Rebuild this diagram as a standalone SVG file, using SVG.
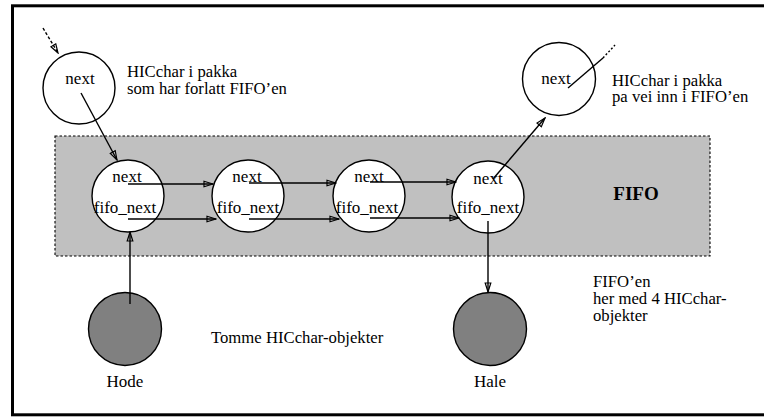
<svg xmlns="http://www.w3.org/2000/svg" width="764" height="419" viewBox="0 0 764 419" font-family="'Liberation Serif', 'Times New Roman', 'DejaVu Serif', serif">
<style>
text{font-family:'Liberation Serif','Times New Roman','DejaVu Serif',serif;fill:#000}
.lbl{font-size:16.7px}
.nl{font-size:17px;text-anchor:middle}
.node{fill:#fff;stroke:#000;stroke-width:1.4}
.empty{fill:#808080;stroke:#000;stroke-width:1.4}
.conn{stroke:#000;stroke-width:1.4;fill:none}
</style>
<defs>
<marker id="ah" viewBox="-10 -4 11 8" refX="0" refY="0" markerWidth="11" markerHeight="8" markerUnits="userSpaceOnUse" orient="auto">
<path d="M0,0 L-9,-2.8 L-9,2.8 Z" fill="none" stroke="#000" stroke-width="1.2"/>
</marker>
</defs>
<rect x="0" y="0" width="764" height="419" fill="#fff"/>
<rect x="12.5" y="5.8" width="760" height="409" fill="none" stroke="#000" stroke-width="3"/>

<g id="fifo">
<rect x="55" y="136" width="655" height="120" fill="#c0c0c0" stroke="#000" stroke-width="1.1" stroke-dasharray="2.5,2"/>
<text x="636" y="200" style="font-size:19px;font-weight:bold;text-anchor:middle">FIFO</text>
</g>

<g id="n0">
<circle class="node" cx="79" cy="88" r="36"/>
<text class="nl" x="80" y="84">next</text>
</g>
<g id="n1">
<circle class="node" cx="128" cy="196" r="36"/>
<text class="nl" x="127" y="182">next</text>
<text class="nl" x="125" y="213">fifo_next</text>
</g>
<g id="n2">
<circle class="node" cx="248" cy="196" r="36"/>
<text class="nl" x="247" y="182">next</text>
<text class="nl" x="248" y="213">fifo_next</text>
</g>
<g id="n3">
<circle class="node" cx="369" cy="196" r="36"/>
<text class="nl" x="369" y="182">next</text>
<text class="nl" x="367" y="213">fifo_next</text>
</g>
<g id="n4">
<circle class="node" cx="488" cy="197" r="36"/>
<text class="nl" x="488" y="184">next</text>
<text class="nl" x="488" y="213">fifo_next</text>
</g>
<g id="n5">
<circle class="node" cx="559" cy="79" r="36.5"/>
<text class="nl" x="556" y="84">next</text>
</g>
<g id="hode">
<circle class="empty" cx="125" cy="329" r="36.5"/>
<text class="nl" x="125" y="387">Hode</text>
</g>
<g id="hale">
<circle class="empty" cx="490" cy="329" r="36.5"/>
<text class="nl" x="490" y="387">Hale</text>
</g>

<g id="labels">
<text class="lbl" x="127" y="77">HICchar i pakka</text>
<text class="lbl" x="127" y="93.5">som har forlatt FIFO’en</text>
<text class="lbl" x="612" y="86">HICchar i pakka</text>
<text class="lbl" x="612" y="102">pa vei inn i FIFO’en</text>
<text class="lbl" x="593" y="287">FIFO’en</text>
<text class="lbl" x="593" y="304">her med 4 HICchar-</text>
<text class="lbl" x="593" y="320.5">objekter</text>
<text class="lbl" x="211" y="343">Tomme HICchar-objekter</text>
</g>

<g id="connectors">
<line class="conn" x1="43" y1="28" x2="58" y2="53" stroke-dasharray="3,2" marker-end="url(#ah)"/>
<line class="conn" x1="81" y1="93" x2="117" y2="160" marker-end="url(#ah)"/>
<line class="conn" x1="128" y1="184" x2="213" y2="184" marker-end="url(#ah)"/>
<line class="conn" x1="128" y1="219" x2="216" y2="219" marker-end="url(#ah)"/>
<line class="conn" x1="249" y1="183" x2="336" y2="183" marker-end="url(#ah)"/>
<line class="conn" x1="249" y1="219" x2="339" y2="219" marker-end="url(#ah)"/>
<line class="conn" x1="370" y1="182" x2="456" y2="182" marker-end="url(#ah)"/>
<line class="conn" x1="370" y1="218" x2="459" y2="218" marker-end="url(#ah)"/>
<line class="conn" x1="493" y1="179" x2="545" y2="118" marker-end="url(#ah)"/>
<line class="conn" x1="568" y1="88" x2="603" y2="58"/>
<line class="conn" x1="603" y1="58" x2="615" y2="45" stroke-dasharray="2,2"/>
<line class="conn" x1="488" y1="221" x2="488" y2="292" marker-end="url(#ah)"/>
<line class="conn" x1="130" y1="304" x2="130" y2="232" marker-end="url(#ah)"/>
</g>
</svg>
